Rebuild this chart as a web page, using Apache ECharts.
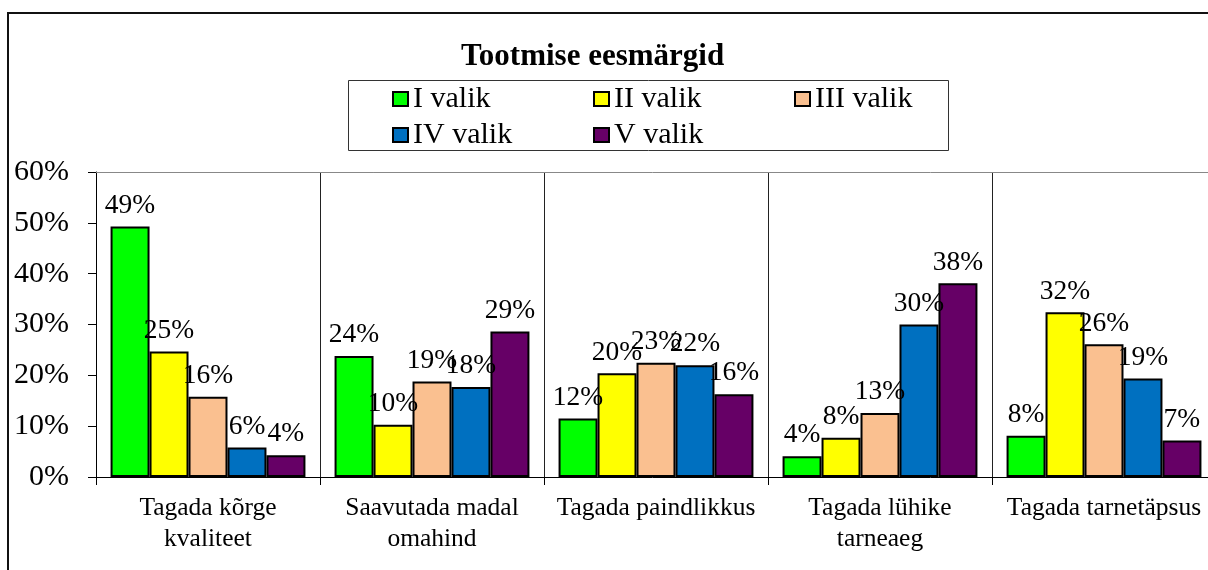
<!DOCTYPE html>
<html>
<head>
<meta charset="utf-8">
<script src="https://cdn.jsdelivr.net/npm/echarts@6/dist/echarts.min.js"></script>
<style>
html,body{margin:0;padding:0;background:#fff;}
#chart{width:1208px;height:570px;}
</style>
</head>
<body>
<div id="chart"></div>
<script>
const categories = ['Tagada kõrge\nkvaliteet', 'Saavutada madal\nomahind', 'Tagada paindlikkus', 'Tagada lühike\ntarneaeg', 'Tagada tarnetäpsus'];
const seriesNames = ['I valik', 'II valik', 'III valik', 'IV valik', 'V valik'];
const valik1 = [49.3, 23.8, 11.5, 4.1, 8.1];
const valik2 = [24.7, 10.3, 20.4, 7.7, 32.4];
const valik3 = [15.8, 18.8, 22.5, 12.6, 26.1];
const valik4 = [5.8, 17.7, 22.0, 30.0, 19.4];
const valik5 = [4.3, 28.6, 16.3, 38.1, 7.2];
const yTicks = [0, 10, 20, 30, 40, 50, 60];
const colors = ['#00FF00', '#FFFF00', '#FAC090', '#0070C0', '#660066'];

const FONT = '"Liberation Serif", "Times New Roman", serif';
const allValues = [valik1, valik2, valik3, valik4, valik5];

const chart = echarts.init(document.getElementById('chart'), null, {renderer: 'canvas'});

const series = allValues.map((vals, i) => ({
  name: seriesNames[i],
  type: 'bar',
  data: vals,
  barGap: '0%',
  barCategoryGap: '13%',
  itemStyle: {color: colors[i], borderColor: '#000', borderWidth: 2},
  label: {
    show: true,
    position: 'top',
    distance: 7,
    formatter: p => Math.round(p.value) + '%',
    fontFamily: FONT,
    fontSize: 27.5,
    color: '#000'
  },
  emphasis: {disabled: true}
}));

const legendText = {fontFamily: FONT, fontSize: 30, color: '#000', width: 130, lineHeight: 30};

chart.setOption({
  animation: false,
  backgroundColor: '#fff',
  title: {
    text: 'Tootmise eesmärgid',
    left: 461,
    top: 41,
    padding: 0,
    textStyle: {fontFamily: FONT, fontSize: 31, fontWeight: 'bold', color: '#000'}
  },
  legend: [
    {
      data: seriesNames.slice(0, 3),
      left: 392, top: 84, padding: 0,
      icon: 'rect', itemWidth: 15, itemHeight: 14, itemGap: 50,
      textStyle: legendText, selectedMode: false
    },
    {
      data: seriesNames.slice(3),
      left: 392, top: 120, padding: 0,
      icon: 'rect', itemWidth: 15, itemHeight: 14, itemGap: 50,
      textStyle: legendText, selectedMode: false
    }
  ],
  graphic: [
    {type: 'rect', shape: {x: 8, y: 13, width: 1400, height: 800}, style: {fill: 'none', stroke: '#111', lineWidth: 2}, silent: true},
    {type: 'rect', shape: {x: 348.5, y: 80.5, width: 600, height: 70}, style: {fill: 'none', stroke: '#333', lineWidth: 1}, silent: true}
  ],
  grid: {left: 96, top: 172, width: 1120, height: 305, containLabel: false, outerBoundsMode: 'none'},
  xAxis: [
    {
      type: 'category',
      data: categories,
      position: 'bottom',
      axisLine: {show: true, lineStyle: {color: '#000', width: 1}},
      axisTick: {show: true, length: 8, lineStyle: {color: '#000'}},
      splitLine: {show: true, lineStyle: {color: '#222', width: 1}},
      axisLabel: {fontFamily: FONT, fontSize: 25.5, color: '#000', lineHeight: 31, margin: 16, interval: 0}
    },
    {
      type: 'category',
      data: categories,
      position: 'top',
      axisLine: {show: true, lineStyle: {color: '#888', width: 1}},
      axisTick: {show: false},
      axisLabel: {show: false},
      splitLine: {show: false}
    }
  ],
  yAxis: {
    type: 'value',
    min: yTicks[0],
    max: yTicks[yTicks.length - 1],
    interval: 10,
    axisLine: {show: true, lineStyle: {color: '#000', width: 1}},
    axisTick: {show: true, length: 8, lineStyle: {color: '#000'}},
    splitLine: {show: false},
    axisLabel: {formatter: '{value}%', fontFamily: FONT, fontSize: 30, color: '#000', margin: 27}
  },
  series: series
});
</script>
</body>
</html>
